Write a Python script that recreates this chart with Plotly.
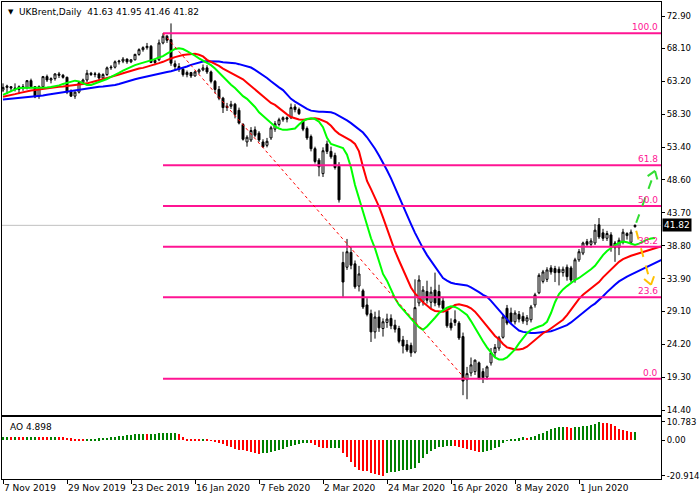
import math
import pandas as pd
import plotly.graph_objects as go

# ---------------- data ----------------
holidays = ["2019-12-25", "2020-01-01", "2020-04-10"]
dates = [d for d in pd.bdate_range("2019-11-07", "2020-06-19") if d.strftime("%Y-%m-%d") not in holidays]

opens = [61.9, 62.3, 62.4, 62.2, 62.0, 62.4, 62.3, 63.3, 62.4, 61.0,
         62.4, 63.9, 63.4, 63.6, 64.3, 64.1, 63.8, 61.6, 61.0, 61.6,
         63.0, 63.4, 64.4, 64.2, 64.3, 63.7, 64.2, 65.2, 65.3, 66.1,
         66.2, 66.5, 66.1, 66.4, 67.2, 67.9, 68.2, 68.4, 66.0, 66.4,
         68.9, 69.9, 69.4, 65.8, 65.4, 65.0, 64.2, 64.5, 64.0, 64.6,
         64.9, 65.2, 64.6, 63.2, 62.0, 60.7, 59.3, 59.5, 59.8, 58.9,
         56.8, 54.2, 54.5, 56.0, 55.5, 54.2, 53.7, 54.8, 56.1, 56.8,
         57.5, 57.8, 57.8, 59.4, 59.0, 57.3, 56.2, 55.0, 53.2, 51.5,
         49.5, 53.9, 52.8, 52.2, 50.6, 36.3, 35.6, 37.8, 36.1, 32.8,
         32.1, 30.0, 28.7, 26.0, 28.2, 26.5, 27.4, 28.0, 27.0, 26.5,
         24.8, 24.1, 24.0, 23.0, 30.3, 30.5, 32.0, 30.4, 32.2, 32.0,
         30.6, 29.1, 27.3, 27.8, 27.3, 25.3, 18.9, 19.9, 20.1, 21.4,
         20.1, 19.3, 21.4, 22.9, 23.6, 25.2, 29.5, 28.8, 27.5, 28.6,
         28.3, 27.6, 27.8, 30.0, 31.8, 33.5, 33.8, 35.5, 35.4, 35.3,
         34.8, 35.6, 35.5, 33.7, 36.7, 37.7, 39.4, 39.0, 39.2, 41.9,
         40.7, 39.9, 40.4, 39.2, 38.5, 39.3, 40.3, 39.3, 41.63]
highs = [62.9, 62.7, 62.5, 62.9, 62.6, 62.8, 63.4, 63.6, 62.5, 62.6,
         64.0, 64.2, 63.8, 64.4, 64.6, 64.3, 63.9, 62.0, 61.7, 63.2,
         63.6, 64.9, 64.6, 64.6, 64.5, 64.4, 65.4, 65.6, 66.3, 66.4,
         66.8, 66.6, 66.5, 67.3, 68.1, 68.4, 68.9, 68.6, 66.6, 69.4,
         70.33, 70.1, 71.8, 66.3, 65.9, 65.3, 64.8, 64.6, 64.8, 65.1,
         65.7, 65.6, 64.8, 63.4, 62.5, 60.9, 60.0, 60.3, 60.0, 59.3,
         57.0, 55.2, 56.4, 56.5, 55.8, 54.6, 54.8, 56.6, 57.3, 57.8,
         58.0, 58.0, 59.9, 59.8, 59.3, 57.6, 56.5, 55.3, 53.5, 51.8,
         53.4, 54.4, 53.5, 52.6, 51.2, 37.9, 39.8, 38.6, 36.6, 35.8,
         32.4, 31.0, 29.3, 29.0, 29.2, 28.0, 28.7, 28.6, 27.8, 26.9,
         25.4, 24.8, 24.4, 33.8, 34.4, 32.8, 33.6, 32.7, 34.8, 33.0,
         31.2, 29.5, 28.0, 29.2, 27.6, 25.9, 20.8, 22.2, 21.9, 21.6,
         20.6, 21.0, 23.6, 24.2, 25.4, 28.6, 30.0, 29.6, 29.2, 29.1,
         28.9, 28.5, 30.0, 31.8, 34.7, 35.2, 35.6, 35.9, 35.8, 35.7,
         35.7, 36.0, 35.8, 37.0, 38.3, 39.4, 39.8, 39.9, 42.0, 42.9,
         41.3, 41.0, 40.8, 39.5, 40.0, 41.3, 40.8, 41.2, 41.95]
lows = [61.6, 61.3, 61.6, 61.7, 61.3, 61.8, 62.0, 62.2, 60.7, 60.6,
        62.2, 63.1, 62.9, 63.3, 63.7, 63.6, 61.3, 60.9, 60.6, 61.4,
        62.7, 63.1, 64.0, 63.8, 63.4, 63.3, 64.0, 64.9, 65.1, 65.7,
        65.9, 65.8, 65.9, 66.3, 67.0, 67.6, 67.9, 65.9, 65.6, 66.2,
        68.7, 68.9, 65.5, 64.9, 64.6, 63.9, 63.8, 63.7, 63.9, 64.3,
        64.7, 64.3, 62.9, 61.4, 60.4, 58.5, 58.8, 59.1, 57.7, 56.8,
        54.4, 53.5, 54.2, 54.9, 54.2, 53.3, 53.4, 54.5, 55.7, 56.5,
        57.2, 57.1, 57.6, 58.6, 58.2, 55.8, 54.5, 52.8, 51.0, 49.1,
        49.0, 52.4, 51.7, 50.1, 45.2, 31.2, 35.2, 35.3, 32.4, 32.0,
        29.4, 28.3, 24.5, 25.0, 26.0, 25.3, 26.6, 26.4, 25.9, 24.3,
        22.8, 23.0, 22.3, 22.8, 29.8, 29.9, 30.2, 29.5, 29.8, 29.6,
        29.2, 26.6, 26.2, 26.9, 24.8, 16.6, 16.0, 19.4, 19.6, 18.9,
        18.4, 18.9, 21.0, 22.2, 23.2, 25.0, 27.0, 27.2, 27.1, 27.4,
        27.2, 27.0, 27.4, 29.6, 31.6, 33.2, 33.4, 34.5, 33.4, 32.9,
        34.2, 33.6, 33.4, 33.3, 36.4, 37.4, 38.6, 38.5, 38.9, 39.8,
        39.5, 39.5, 37.9, 36.4, 37.4, 39.0, 39.7, 39.0, 41.46]
closes = [62.3, 62.5, 62.2, 62.1, 62.4, 62.3, 63.3, 62.4, 60.9, 62.4,
          63.9, 63.4, 63.6, 64.3, 64.1, 63.8, 61.6, 61.0, 61.6, 63.0,
          63.4, 64.4, 64.2, 64.3, 63.7, 64.2, 65.2, 65.3, 66.1, 66.2,
          66.5, 66.1, 66.4, 67.2, 67.9, 68.2, 68.4, 66.0, 66.3, 68.9,
          69.9, 69.3, 65.9, 65.4, 65.0, 64.2, 64.5, 64.0, 64.6, 64.9,
          65.2, 64.6, 63.2, 62.0, 60.7, 59.3, 59.5, 59.8, 58.3, 57.0,
          54.6, 54.9, 55.9, 55.2, 54.5, 53.5, 54.3, 56.3, 56.9, 57.5,
          57.8, 57.6, 59.3, 59.0, 58.4, 56.1, 54.8, 53.2, 51.3, 50.5,
          52.9, 52.8, 52.0, 50.4, 45.6, 33.4, 37.9, 35.9, 32.7, 34.6,
          29.7, 28.6, 26.0, 28.2, 26.6, 27.5, 27.9, 26.9, 26.4, 24.6,
          23.9, 23.3, 22.9, 29.6, 33.7, 32.2, 30.7, 31.9, 30.3, 30.0,
          29.5, 26.9, 26.6, 27.4, 25.1, 18.7, 19.8, 21.1, 21.8, 19.1,
          19.2, 20.8, 22.9, 23.7, 25.1, 28.2, 27.3, 27.5, 28.8, 27.9,
          27.6, 28.1, 29.7, 31.5, 34.4, 34.9, 35.2, 34.9, 34.8, 34.8,
          35.3, 34.2, 33.7, 36.7, 37.9, 39.2, 39.0, 39.5, 41.1, 40.1,
          39.9, 40.6, 38.6, 38.5, 39.6, 40.8, 40.6, 40.8, 41.82]

# Alligator-style lines (one value per bar, shifted forward)
lips_green = [61.2, 61.5, 61.8, 62.0, 62.2, 62.2, 62.2, 62.2, 62.2, 62.2,
              62.25, 62.3, 62.35, 62.45, 62.6, 62.8, 62.95, 63.15, 63.3, 63.2,
              62.9, 62.65, 62.65, 62.85, 63.05, 63.25, 63.55, 63.85, 64.1, 64.45,
              64.8, 65.1, 65.4, 65.6, 65.8, 65.95, 66.1, 66.3, 66.5, 66.75,
              66.95, 67.3, 67.7, 68.0, 68.1, 68.0, 67.7, 67.4, 67.0, 66.6,
              66.3, 66.0, 65.6, 65.1, 64.5, 63.9, 63.2, 62.7, 62.2, 61.6,
              61.0, 60.6, 60.0, 59.4, 58.6, 58.1, 57.6, 57.1, 56.5, 56.2,
              56.0, 56.0, 56.1, 56.2, 56.8, 57.3, 57.6, 57.7, 57.6, 57.2,
              56.4, 54.8, 53.9, 53.7, 53.5, 53.3, 52.3, 50.4, 47.8, 45.8,
              43.8, 41.8, 39.9, 38.4, 36.6, 34.6, 33.6, 32.3, 31.0, 30.0,
              29.3, 28.6, 27.9, 27.3, 26.7, 26.3, 26.8, 27.4, 28.1, 28.8,
              29.2, 29.6, 29.8, 29.7, 29.4, 29.0, 28.5, 27.6, 26.6, 25.4,
              24.6, 23.7, 22.9, 22.2, 21.9, 21.9, 22.2, 22.8, 23.4, 24.3,
              25.1, 25.8, 26.3, 26.6, 26.8, 27.0, 27.5, 28.8, 30.4, 31.6,
              32.3, 32.8, 33.3, 33.7, 34.0, 34.4, 34.8, 35.3, 35.8, 36.6,
              37.4, 38.0, 38.5, 38.9, 39.2, 39.4, 39.3, 39.05, 38.9, 39.1,
              39.4, 39.7, 39.85, 39.95]
teeth_red = [60.9, 61.0, 61.15, 61.3, 61.45, 61.6, 61.75, 61.85, 61.9, 62.0,
             62.05, 62.1, 62.2, 62.3, 62.4, 62.45, 62.5, 62.55, 62.6, 62.7,
             62.8, 62.9, 63.0, 63.2, 63.35, 63.5, 63.7, 63.85, 64.0, 64.2,
             64.4, 64.6, 64.8, 65.0, 65.1, 65.2, 65.35, 65.5, 65.65, 65.9,
             66.1, 66.4, 66.6, 66.8, 67.0, 67.1, 67.2, 67.3, 67.3, 67.15,
             66.9, 66.4, 66.1, 65.9, 65.5, 65.1, 64.8, 64.45, 64.1, 63.8,
             63.5, 63.0, 62.5, 61.9, 61.4, 60.9, 60.4, 60.0, 59.7, 59.2,
             58.7, 58.3, 57.9, 57.7, 57.55, 57.5, 57.55, 57.6, 57.7, 57.6,
             57.4, 57.1, 56.6, 55.9, 55.4, 55.1, 54.8, 54.4, 53.9, 52.8,
             50.5, 48.4, 47.2, 45.9, 44.6, 43.0, 41.3, 39.5, 38.0, 36.6,
             35.2, 33.8, 32.6, 31.7, 31.0, 30.4, 29.9, 29.4, 29.1, 29.0,
             29.0, 29.2, 29.6, 30.0, 30.1, 30.0, 29.8, 29.5, 29.0, 28.3,
             27.6, 26.9, 26.1, 25.4, 24.9, 24.2, 23.7, 23.5, 23.4, 23.4,
             23.5, 23.8, 24.3, 24.8, 25.3, 25.8, 26.1, 26.5, 26.9, 27.3,
             27.8, 28.5, 29.3, 30.1, 30.9, 31.5, 32.0, 32.5, 32.9, 33.4,
             34.1, 34.7, 35.3, 35.9, 36.4, 36.8, 37.1, 37.3, 37.5, 37.7,
             37.9, 38.1, 38.3, 38.45, 38.6, 38.7]
jaw_blue = [60.5, 60.55, 60.6, 60.65, 60.7, 60.75, 60.8, 60.85, 60.9, 61.0,
            61.1, 61.2, 61.3, 61.4, 61.5, 61.6, 61.7, 61.75, 61.8, 61.9,
            62.0, 62.1, 62.2, 62.3, 62.4, 62.45, 62.5, 62.55, 62.65, 62.8,
            63.0, 63.15, 63.35, 63.5, 63.65, 63.8, 63.95, 64.1, 64.2, 64.35,
            64.5, 64.6, 64.7, 64.85, 65.0, 65.15, 65.4, 65.65, 65.85, 66.05,
            66.15, 66.2, 66.2, 66.2, 66.15, 66.05, 66.0, 66.0, 65.9, 65.75,
            65.6, 65.5, 65.25, 64.9, 64.5, 64.2, 63.7, 63.2, 62.7, 62.3,
            61.9, 61.3, 60.6, 60.2, 59.8, 59.4, 59.1, 58.85, 58.75, 58.7,
            58.7, 58.65, 58.6, 58.4, 58.1, 57.7, 57.4, 57.0, 56.5, 56.1,
            55.6, 54.9, 54.1, 53.2, 52.2, 51.2, 50.0, 48.8, 47.4, 46.1,
            44.8, 43.4, 42.0, 40.7, 39.5, 38.4, 37.4, 36.5, 35.6, 34.7,
            34.0, 33.6, 33.3, 33.15, 33.05, 33.0, 32.9, 32.6, 32.3, 31.9,
            31.5, 31.2, 30.6, 29.9, 29.2, 28.5, 27.8, 27.2, 26.7, 26.2,
            26.0, 25.9, 25.85, 25.85, 25.9, 26.0, 26.0, 26.1, 26.3, 26.5,
            26.7, 27.0, 27.4, 27.9, 28.4, 28.9, 29.4, 29.8, 30.2, 30.7,
            31.3, 31.9, 32.5, 33.0, 33.5, 33.9, 34.2, 34.5, 34.8, 35.1,
            35.4, 35.7, 36.0, 36.3, 36.6, 36.8, 37.0]

ao_values = [1.8, 1.9, 1.7, 1.8, 1.7, 1.6, 1.7, 1.9, 2.0, 1.9,
             1.8, 1.7, 1.8, 1.9, 1.8, 1.6, 1.3, 1.0, 0.8, 0.6,
             0.5, 0.55, 0.7, 0.9, 1.1, 1.3, 1.5, 1.7, 1.9, 2.2,
             2.5, 2.8, 3.0, 3.3, 3.5, 3.6, 3.5, 3.7, 3.8, 4.0,
             4.1, 4.2, 4.25, 4.3, 3.6, 1.8, 0.6, 0.5, 0.4, 0.3,
             0.35, 0.2, -0.2, -0.8, -1.6, -2.5, -3.4, -4.3, -5.0, -5.6,
             -6.1, -6.6, -7.1, -7.6, -7.9, -7.7, -7.4, -7.1, -6.5, -5.8,
             -5.0, -4.2, -3.4, -2.7, -2.1, -1.8, -1.6, -1.9, -2.9, -3.9,
             -4.6, -4.9, -4.7, -4.5, -4.4, -7.6, -10.2, -12.9, -15.9, -17.8,
             -17.9, -18.3, -19.4, -20.2, -20.7, -20.914, -19.6, -19.0, -18.5, -18.1,
             -17.8, -17.4, -17.0, -16.3, -13.6, -10.8, -8.2, -6.5, -5.2, -4.3,
             -3.8, -3.5, -3.3, -3.6, -4.0, -4.6, -5.2, -5.9, -6.4, -7.1,
             -6.9, -6.2, -5.6, -4.9, -3.8, -1.9, -0.4, 0.2, 0.5, 1.1,
             1.6, 1.4, 1.9, 2.5, 3.4, 4.3, 5.3, 6.3, 7.2, 7.7,
             7.9, 7.5, 7.2, 7.5, 7.8, 8.0, 8.3, 8.7, 9.4, 10.783,
             10.3, 10.1, 9.6, 8.3, 6.6, 5.7, 5.2, 4.7, 4.898]

price_ticks = [72.90, 68.10, 63.20, 58.30, 53.40, 48.60, 43.70, 38.80, 33.90, 29.10, 24.20, 19.30, 14.40]
ao_ticks = [10.783, 0.0, -20.914]
date_ticks = ["2019-11-07", "2019-11-29", "2019-12-23", "2020-01-16", "2020-02-07",
              "2020-03-02", "2020-03-24", "2020-04-16", "2020-05-08", "2020-06-01"]

fib_ratios = [0.0, 23.6, 38.2, 50.0, 61.8, 100.0]
fib_low, fib_high = 19.05, 70.33
fib_start_bar, fib_end_bar = 40, 115.5
up_target, down_target = 49.9, 33.0          # hand-drawn arrows
up_start, down_start = 42.2, 41.0

# ---------------- figure ----------------
n = len(dates)
idx = list(range(n))
X0, X1 = -0.25, 164.5
Y0, Y1 = 13.66, 74.98
AO0, AO1 = -22.7, 13.55
MAIN_DOM = [0.1342, 1.0]
AO_DOM = [0.0, 0.1294]
FONT = "DejaVu Sans"
PINK = "#FF1493"
TICKFONT = dict(family=FONT, size=8.5, color="black")

fig = go.Figure()
fig.add_trace(go.Candlestick(
    x=idx, open=opens, high=highs, low=lows, close=closes,
    increasing=dict(line=dict(color="black", width=1), fillcolor="white"),
    decreasing=dict(line=dict(color="black", width=1), fillcolor="black"),
    whiskerwidth=0, xaxis="x", yaxis="y", hoverinfo="skip"))

for vals, col in [(jaw_blue, "#0000FF"), (teeth_red, "#FF0000"), (lips_green, "#00FF00")]:
    fig.add_trace(go.Scatter(x=list(range(len(vals))), y=vals, mode="lines",
                             line=dict(color=col, width=2), xaxis="x", yaxis="y",
                             hoverinfo="skip"))

ao_colors = ["#008000" if (i == 0 or v > ao_values[i - 1]) else "#FF0000"
             for i, v in enumerate(ao_values)]
fig.add_trace(go.Bar(x=idx, y=ao_values, marker=dict(color=ao_colors, line=dict(width=0)),
                     width=0.28, xaxis="x2", yaxis="y2", hoverinfo="skip"))

shapes = []
shapes.append(dict(type="line", xref="x", yref="y", x0=X0, x1=X1, y0=closes[-1], y1=closes[-1],
                   line=dict(color="#C0C0C0", width=1), layer="below"))
annotations = []
for r in fib_ratios:
    lvl = fib_low + (fib_high - fib_low) * r / 100.0
    shapes.append(dict(type="line", xref="x", yref="y", x0=fib_start_bar, x1=X1, y0=lvl, y1=lvl,
                       line=dict(color=PINK, width=2)))
    annotations.append(dict(xref="x", yref="y", x=164.3, y=lvl, xanchor="right", yanchor="bottom",
                            text=f"{r:.1f}", showarrow=False, yshift=-1,
                            font=dict(family=FONT, size=9, color=PINK)))
shapes.append(dict(type="line", xref="x", yref="y", x0=fib_start_bar, x1=fib_end_bar,
                   y0=fib_high, y1=fib_low, line=dict(color="#FF0000", width=1, dash="dot")))

px_x = 659.0 / (X1 - X0)
px_y = 413.0 / (Y1 - Y0)


def arrow(x0, y0, x1, y1, color):
    out = [dict(type="line", xref="x", yref="y", x0=x0, y0=y0, x1=x1, y1=y1,
                line=dict(color=color, width=2, dash="dash"))]
    dx, dy = (x1 - x0) * px_x, (y1 - y0) * px_y
    L = math.hypot(dx, dy)
    ux, uy = dx / L, dy / L
    for s in (1, -1):
        a = math.radians(35) * s
        rx = -ux * math.cos(a) + uy * math.sin(a)
        ry = -uy * math.cos(a) - ux * math.sin(a)
        out.append(dict(type="line", xref="x", yref="y", x0=x1, y0=y1,
                        x1=x1 + rx * 9 / px_x, y1=y1 + ry * 9 / px_y,
                        line=dict(color=color, width=2)))
    return out


last = n - 1
shapes += arrow(last + 0.3, up_start, last + 5, up_target, "#33DD33")
shapes += arrow(last + 0.3, down_start, last + 4, down_target, "#FFC000")

for d in date_ticks:
    i = [k for k, dd in enumerate(dates) if dd.strftime("%Y-%m-%d") == d][0]
    dd = dates[i]
    annotations.append(dict(xref="x2", yref="paper", x=i, y=0, xanchor="left", yanchor="top",
                            yshift=-2, xshift=-1, showarrow=False,
                            text=f"{dd.day} {dd.strftime('%b %Y')}",
                            font=dict(family=FONT, size=9, color="black")))
tick_idx = [k for k, dd in enumerate(dates) if dd.strftime("%Y-%m-%d") in date_ticks]

annotations.append(dict(xref="paper", yref="paper", x=0, y=1, xanchor="left", yanchor="top",
                        xshift=4, yshift=-4, showarrow=False, text="▼",
                        font=dict(family=FONT, size=7, color="black")))
annotations.append(dict(xref="paper", yref="paper", x=0, y=1, xanchor="left", yanchor="top",
                        xshift=15, yshift=-3, showarrow=False,
                        text=f"UKBrent,Daily  {opens[-1]:.2f} {highs[-1]:.2f} {lows[-1]:.2f} {closes[-1]:.2f}",
                        font=dict(family=FONT, size=9, color="black")))
annotations.append(dict(xref="paper", yref="paper", x=0, y=AO_DOM[1], xanchor="left", yanchor="top",
                        xshift=6, yshift=-3, showarrow=False, text=f"AO {ao_values[-1]:.3f}",
                        font=dict(family=FONT, size=9, color="black")))
annotations.append(dict(xref="paper", yref="y", x=1, y=closes[-1], xanchor="left", yanchor="middle",
                        xshift=1, showarrow=False, text=f"{closes[-1]:.2f}", bgcolor="black",
                        borderpad=1, font=dict(family=FONT, size=9, color="white")))

axis_common = dict(showgrid=False, zeroline=False, showline=True, mirror=True,
                   linecolor="black", linewidth=1, automargin=False)
fig.update_layout(
    width=700, height=500, margin=dict(l=2, r=39, t=2, b=21, autoexpand=False),
    paper_bgcolor="white", plot_bgcolor="white", showlegend=False,
    font=dict(family=FONT, size=9, color="black"),
    xaxis=dict(domain=[0, 1], range=[X0, X1], anchor="y", showticklabels=False, ticks="",
               rangeslider=dict(visible=False), **axis_common),
    yaxis=dict(domain=MAIN_DOM, range=[Y0, Y1], anchor="x", side="right",
               tickvals=price_ticks, ticktext=[f"{v:.2f}" for v in price_ticks],
               ticks="outside", ticklen=3, tickcolor="black", tickfont=TICKFONT,
               ticklabelstandoff=0, **axis_common),
    xaxis2=dict(domain=[0, 1], range=[X0, X1], anchor="y2", tickvals=tick_idx,
                ticktext=[""] * len(tick_idx), ticks="outside", ticklen=4, tickcolor="black",
                **axis_common),
    yaxis2=dict(domain=AO_DOM, range=[AO0, AO1], anchor="x2", side="right",
                tickvals=ao_ticks, ticktext=["10.783", "0.00", "-20.914"],
                ticks="outside", ticklen=3, tickcolor="black", tickfont=TICKFONT,
                ticklabelstandoff=0, **axis_common),
    shapes=shapes, annotations=annotations, bargap=0,
)

fig.write_html("out.html", config={"displayModeBar": False},
               post_script="document.body.style.margin='0px';")
